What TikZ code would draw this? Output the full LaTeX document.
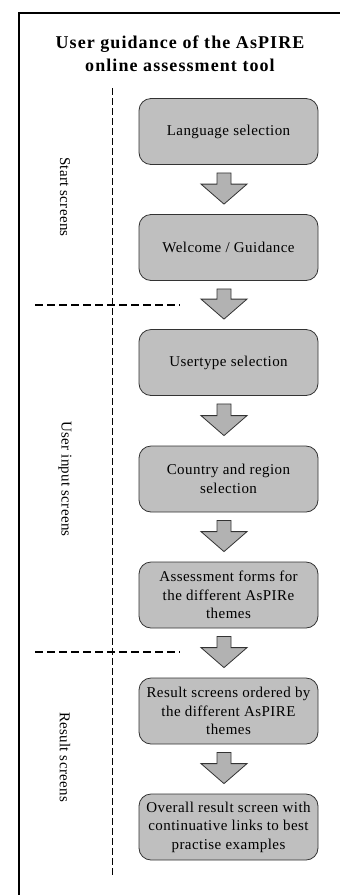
\documentclass[tikz,border=0pt]{standalone}
\usepackage{fontspec}
\setmainfont{Liberation Serif}
\newfontfamily\boxfont[LetterSpace=3]{Liberation Serif}
\newfontfamily\sidefont[LetterSpace=2]{Liberation Serif}
\newfontfamily\titlefont[LetterSpace=6]{Liberation Serif}
\usetikzlibrary{calc}
\newcommand\flowarrow[2]{%
  \coordinate (ftop) at ($(#1.south)+(-4.5,8)$);
  \coordinate (ftip) at ($(#2.north)+(-4.5,-10)$);
  \draw[blockarrow] ($(ftop)+(-7,0)$) -- ($(ftip)+(-7,-20)$) -- ($(ftip)+(-23,-20)$)
    -- (ftip) -- ($(ftip)+(23,-20)$) -- ($(ftip)+(7,-20)$) -- ($(ftop)+(7,0)$) -- cycle;
}
\begin{document}
\begin{tikzpicture}[x=1pt,y=-1pt,
  screen/.style={draw=black!80, fill=black!25, rounded corners=12pt,
    minimum width=179pt, minimum height=66pt, align=center, inner sep=2pt,
    line width=0.8pt, font=\boxfont\fontsize{15}{18.5}\selectfont},
  blockarrow/.style={draw=black!80, fill=black!30, line width=0.8pt, line join=miter},
  sidelabel/.style={rotate=-90, font=\sidefont\fontsize{15}{17}\selectfont},
  divider/.style={dash pattern=on 8pt off 4pt, line width=1.6pt},
  lane/.style={dash pattern=on 7pt off 3pt, line width=0.9pt},
  frame/.style={line width=2pt},
  heading/.style={align=center, font=\titlefont\bfseries\fontsize{18}{23}\selectfont}]
\useasboundingbox (0,0) rectangle (340,895);
\fill[white] (0,0) rectangle (340,895);
% frame
\coordinate (fa) at (19,900);
\coordinate (fb) at (19,13);
\coordinate (fc) at (345,13);
\draw[frame] (fa) -- (fb) -- (fc);
% title
\node[heading] (title) at (180,54) {User guidance of the AsPIRE\\online assessment tool};
% lane separators
\coordinate (v1) at (112,88);
\coordinate (v2) at (112,878);
\draw[lane] (v1) -- (v2);
\coordinate (h1a) at (35,305);
\coordinate (h1b) at (180,305);
\coordinate (h2a) at (35,652);
\coordinate (h2b) at (180,652);
\draw[divider] (h1a) -- (h1b);
\draw[divider] (h2a) -- (h2b);
% side labels
\node[sidelabel] (ls) at (65,197) {Start screens};
\node[sidelabel] (lu) at (65,479) {User input screens};
\node[sidelabel] (lr) at (65,757) {Result screens};
% screens
\node[screen] (b1) at (228.5,131.5) {Language selection};
\node[screen] (b2) at (228.5,247.5) {Welcome / Guidance};
\node[screen] (b3) at (228.5,362.5) {Usertype selection};
\node[screen] (b4) at (228.5,479) {Country and region\\selection};
\node[screen] (b5) at (228.5,595) {Assessment forms for\\the different AsPIRe\\themes};
\node[screen] (b6) at (228.5,711) {Result screens ordered by\\the different AsPIRE\\themes};
\node[screen] (b7) at (228.5,827) {Overall result screen with\\continuative links to best\\practise examples};
% arrows
\flowarrow{b1}{b2}
\flowarrow{b2}{b3}
\flowarrow{b3}{b4}
\flowarrow{b4}{b5}
\flowarrow{b5}{b6}
\flowarrow{b6}{b7}
\end{tikzpicture}
\end{document}
